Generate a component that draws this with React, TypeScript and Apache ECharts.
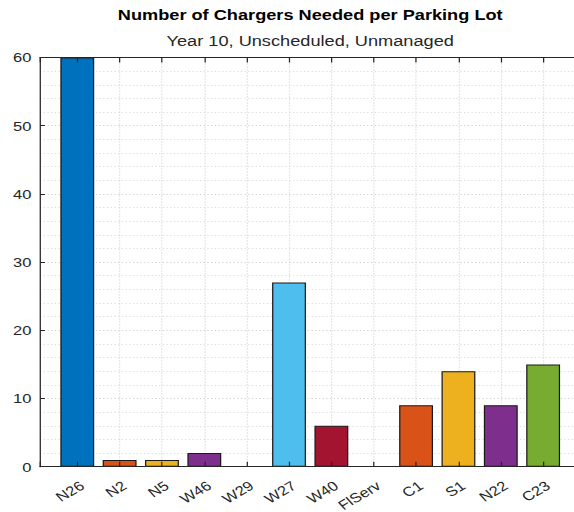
import React, { useEffect, useRef } from "react";
import * as echarts from "echarts";

const categories = ["N26", "N2", "N5", "W46", "W29", "W27", "W40", "FlServ", "C1", "S1", "N22", "C23"];
const chargers = [60, 1, 1, 2, 0, 27, 6, 0, 9, 14, 9, 15];
const barColors = [
  "#0072BD", "#D95319", "#EDB120", "#7E2F8E", "#77AC30", "#4DBEEE",
  "#A2142F", "#0072BD", "#D95319", "#EDB120", "#7E2F8E", "#77AC30",
];
const yMin = 0;
const yMax = 60;
const yStep = 10;
const titleText = "Number of Chargers Needed per Parking Lot";
const subtitleText = "Year 10, Unscheduled, Unmanaged";

const PAGE_W = 574;
const PAGE_H = 512;
const INNER_W = 463;
const SX = PAGE_W / INNER_W;

const FONT = "'Liberation Sans', Arial, Helvetica, sans-serif";
const AX = "#262626";
const X_MIN = 0.12;
const X_MAX = 12.88;

export default function App() {
  const ref = useRef<HTMLDivElement>(null);
  useEffect(() => {
    if (!ref.current) return;
    const chart = echarts.init(ref.current, undefined, { renderer: "svg" });
    const gridLeft = 32.27;
    const gridWidth = 435.9;
    const grid = {
      left: gridLeft,
      top: 57.5,
      width: gridWidth,
      height: 409.2,
      containLabel: false,
      outerBoundsMode: "none",
    };
    const plotCenter = gridLeft + gridWidth / 2;
    const intAxis = (extra: any) => ({
      type: "value",
      min: X_MIN,
      max: X_MAX,
      minInterval: 1,
      maxInterval: 1,
      ...extra,
    });
    chart.setOption({
      animation: false,
      backgroundColor: "#ffffff",
      grid,
      graphic: [
        {
          type: "text",
          x: plotCenter,
          y: 15,
          style: {
            text: titleText,
            textAlign: "center",
            textVerticalAlign: "middle",
            font: `bold 14.67px ${FONT}`,
            fill: "#000000",
          },
        },
        {
          type: "text",
          x: plotCenter,
          y: 41,
          style: {
            text: subtitleText,
            textAlign: "center",
            textVerticalAlign: "middle",
            font: `14.67px ${FONT}`,
            fill: AX,
          },
        },
      ],
      xAxis: [
        intAxis({
          position: "bottom",
          z: 10,
          axisLine: { show: true, lineStyle: { color: AX, width: 1 } },
          axisTick: { show: true, inside: true, length: 5, lineStyle: { color: AX } },
          splitLine: { show: false },
          axisLabel: {
            show: true,
            rotate: 36,
            margin: 12,
            align: "right",
            verticalAlign: "top",
            color: AX,
            fontFamily: FONT,
            fontSize: 13.33,
            formatter: (v: number) => {
              const i = Math.round(v);
              return Math.abs(v - i) < 1e-6 && i >= 1 && i <= categories.length ? categories[i - 1] : "";
            },
          },
        }),
        intAxis({
          position: "top",
          z: 10,
          axisLine: { show: true, lineStyle: { color: AX, width: 1 } },
          axisTick: { show: true, inside: true, length: 5, lineStyle: { color: AX } },
          axisLabel: { show: false },
          splitLine: { show: false },
        }),
        intAxis({
          position: "bottom",
          z: 0,
          axisLine: { show: false },
          axisTick: { show: false },
          axisLabel: { show: false },
          splitLine: { show: true, lineStyle: { color: "#cfcfcf", type: [1, 2], width: 1 } },
        }),
      ],
      yAxis: [
        {
          type: "value",
          min: yMin,
          max: yMax,
          interval: yStep,
          position: "left",
          axisLine: { show: true, lineStyle: { color: AX, width: 1 } },
          axisTick: { show: true, inside: true, length: 4, lineStyle: { color: AX } },
          axisLabel: { color: AX, fontFamily: FONT, fontSize: 13.33, margin: 7 },
          splitLine: { show: true, lineStyle: { color: "#cfcfcf", type: [1, 2], width: 1 } },
          minorTick: { show: false, splitNumber: 5 },
          minorSplitLine: { show: true, lineStyle: { color: "#dcdcdc", type: [1, 2], width: 1 } },
        },
      ],
      series: [
        {
          type: "bar",
          xAxisIndex: 0,
          yAxisIndex: 0,
          barWidth: "80%",
          z: 2,
          data: chargers.map((v, i) => ({
            value: [i + 1, v],
            itemStyle: { color: barColors[i], borderColor: "#1a1a1a", borderWidth: v === 0 ? 0 : 1 },
          })),
        },
      ],
    });
    return () => chart.dispose();
  }, []);
  return (
    <div
      style={{
        position: "absolute",
        left: 0,
        top: 0,
        width: PAGE_W,
        height: PAGE_H,
        overflow: "hidden",
        background: "#ffffff",
      }}
    >
      <div
        ref={ref}
        style={{
          width: INNER_W,
          height: PAGE_H,
          transform: `scaleX(${SX})`,
          transformOrigin: "0 0",
        }}
      />
    </div>
  );
}
